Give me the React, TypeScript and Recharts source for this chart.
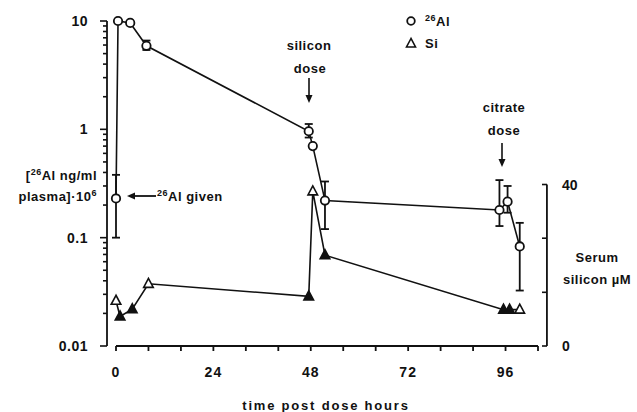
import { ComposedChart, Line, XAxis, YAxis, ErrorBar, ReferenceLine } from 'recharts'

// 26Al plasma level (left log axis), hours after dose
const alHours = [0, 0.5, 3.5, 7.5, 47.5, 48.5, 51.5, 94.5, 96.5, 99.5]
const alValues = [0.23, 10, 9.6, 5.9, 0.96, 0.7, 0.22, 0.18, 0.215, 0.083]
const alLow = [0.1, null, null, 5.4, 0.84, null, 0.12, 0.128, 0.17, 0.0325]
const alHigh = [0.38, null, null, 6.6, 1.12, null, 0.33, 0.34, 0.3, 0.137]

// serum silicon µM (right axis)
const siHours = [0, 1, 4, 8, 47.5, 48.5, 51.5, 95.5, 97, 99.5]
const siValues = [11.2, 7.3, 9.1, 15.4, 12.3, 38.3, 22.5, 9.0, 9.0, 9.0]

const xTicks = [0, 8, 16, 24, 32, 40, 48, 56, 64, 72, 80, 88, 96, 104]
const xLabels = [0, 24, 48, 72, 96]
const leftTicks = [
  0.01, 0.02, 0.03, 0.04, 0.05, 0.06, 0.07, 0.08, 0.09,
  0.1, 0.2, 0.3, 0.4, 0.5, 0.6, 0.7, 0.8, 0.9,
  1, 2, 3, 4, 5, 6, 7, 8, 9, 10,
]
const leftLabels = [0.01, 0.1, 1, 10]
const rightTicks = [0, 13.3, 26.7, 40]
const rightLabels = [0, 40]

const alData = alHours.map((h, i) => ({
  h,
  al: alValues[i],
  err: alLow[i] == null ? null : [alValues[i] - (alLow[i] as number), (alHigh[i] as number) - alValues[i]],
}))
const siData = siHours.map((h, i) => ({ h, si: siValues[i] }))

const INK = '#111'
const font = { fontFamily: '"Liberation Sans", Arial, sans-serif', fontWeight: 700 as const, fill: INK }
const siOpen = new Set([0, 3, 5, 9])

function XTick({ x, y, payload }: any) {
  const v = payload.value
  return (
    <g>
      <line x1={x} y1={y} x2={x} y2={y + 5} stroke={INK} strokeWidth={1.8} />
      {xLabels.includes(v) && (
        <text x={x} y={y + 31} textAnchor="middle" fontSize={14} letterSpacing={1} {...font}>{v}</text>
      )}
    </g>
  )
}

function LeftTick({ x, y, payload }: any) {
  const v = payload.value
  const major = leftLabels.includes(v)
  return (
    <g>
      <line x1={x} y1={y} x2={x - (major ? 7 : 4)} y2={y} stroke={INK} strokeWidth={1.6} />
      {major && (
        <text x={x - 19} y={y + 5} textAnchor="end" fontSize={14} letterSpacing={0.5} {...font}>{v}</text>
      )}
    </g>
  )
}

function RightTick({ x, y, payload }: any) {
  const v = payload.value
  return (
    <g>
      <line x1={x} y1={y} x2={x - 5} y2={y} stroke={INK} strokeWidth={1.6} />
      {rightLabels.includes(v) && (
        <text x={x + 15} y={y + 5} textAnchor="start" fontSize={14} {...font}>{v}</text>
      )}
    </g>
  )
}

function CircleDot({ cx, cy, index }: any) {
  if (cx == null || cy == null) return <g key={index} />
  return <circle key={index} cx={cx} cy={cy} r={4.2} fill="#fff" stroke={INK} strokeWidth={1.8} />
}

function TriDot({ cx, cy, index }: any) {
  if (cx == null || cy == null) return <g key={index} />
  const open = siOpen.has(index)
  return (
    <path
      key={index}
      d={`M${cx},${cy - 5.5}L${cx - 4.8},${cy + 3.5}L${cx + 4.8},${cy + 3.5}Z`}
      fill={open ? '#fff' : INK}
      stroke={INK}
      strokeWidth={1.6}
    />
  )
}

function Sup({ children }: any) {
  return <tspan fontSize={9} dy={-5}>{children}</tspan>
}

function Annotations() {
  return (
    <svg width={637} height={412} style={{ position: 'absolute', left: 0, top: 0, pointerEvents: 'none' }}>
      <g fontSize={13} letterSpacing={0.5} {...font}>
        <text x={97} y={180} textAnchor="end">[<Sup>26</Sup><tspan dy={5}>Al ng/ml</tspan></text>
        <text x={97} y={201} textAnchor="end">plasma]·10<Sup>6</Sup></text>

        <line x1={133} y1={196} x2={156} y2={196} stroke={INK} strokeWidth={1.8} />
        <path d="M127,196L135,192.5L135,199.5Z" fill={INK} />
        <text x={157} y={201}><Sup>26</Sup><tspan dy={5}>Al given</tspan></text>

        <text x={309} y={50} textAnchor="middle">silicon</text>
        <text x={310} y={73} textAnchor="middle">dose</text>
        <line x1={309} y1={78} x2={309} y2={97} stroke={INK} strokeWidth={1.6} />
        <path d="M305.5,95L312.5,95L309,103Z" fill={INK} />

        <text x={504} y={112} textAnchor="middle">citrate</text>
        <text x={504} y={135} textAnchor="middle">dose</text>
        <line x1={502} y1={143} x2={502} y2={160} stroke={INK} strokeWidth={1.6} />
        <path d="M498.5,159L505.5,159L502,167Z" fill={INK} />

        <circle cx={411} cy={21} r={3.8} fill="#fff" stroke={INK} strokeWidth={1.8} />
        <text x={425} y={26}><Sup>26</Sup><tspan dy={5}>Al</tspan></text>
        <path d="M411,38.5L406.5,47L415.5,47Z" fill="#fff" stroke={INK} strokeWidth={1.6} />
        <text x={425} y={48}>Si</text>

        <text x={597} y={262} textAnchor="middle">Serum</text>
        <text x={597} y={284} textAnchor="middle">silicon µM</text>

        <text x={326} y={410} textAnchor="middle" letterSpacing={1.8}>time post dose hours</text>
      </g>
    </svg>
  )
}

export default function App() {
  return (
    <div style={{ position: 'absolute', left: 0, top: 0, width: 637, height: 412, background: '#fff' }}>
      <ComposedChart width={637} height={412} margin={{ top: 21, right: 30, bottom: 36, left: 47 }}>
        <XAxis
          dataKey="h"
          type="number"
          domain={[0, 104]}
          ticks={xTicks}
          interval={0}
          padding={{ left: 9, right: 9 }}
          axisLine={false}
          tickLine={false}
          tickSize={0}
          tickMargin={0}
          height={30}
          tick={<XTick />}
        />
        <YAxis
          yAxisId="left"
          scale="log"
          domain={[0.01, 10]}
          ticks={leftTicks}
          interval={0}
          width={60}
          axisLine={{ stroke: INK, strokeWidth: 1.8 }}
          tickLine={false}
          tickSize={0}
          tickMargin={0}
          tick={<LeftTick />}
        />
        <YAxis
          yAxisId="right"
          orientation="right"
          type="number"
          domain={[0, 80.5]}
          ticks={rightTicks}
          interval={0}
          width={60}
          axisLine={false}
          tickLine={false}
          tickSize={0}
          tickMargin={0}
          tick={<RightTick />}
        />
        <ReferenceLine
          yAxisId="left"
          segment={[{ x: 0, y: 0.01 }, { x: 104, y: 0.01 }]}
          stroke={INK}
          strokeWidth={1.8}
        />
        <ReferenceLine
          yAxisId="right"
          segment={[{ x: 106.2, y: 0 }, { x: 106.2, y: 40 }]}
          ifOverflow="visible"
          stroke={INK}
          strokeWidth={1.8}
        />
        <Line
          yAxisId="right"
          data={siData}
          dataKey="si"
          type="linear"
          stroke={INK}
          strokeWidth={1.6}
          dot={TriDot}
          activeDot={false}
          isAnimationActive={false}
        />
        <Line
          yAxisId="left"
          data={alData}
          dataKey="al"
          type="linear"
          stroke={INK}
          strokeWidth={1.6}
          dot={CircleDot}
          activeDot={false}
          isAnimationActive={false}
        >
          <ErrorBar dataKey="err" direction="y" width={4} stroke={INK} strokeWidth={1.8} />
        </Line>
      </ComposedChart>
      <Annotations />
    </div>
  )
}
